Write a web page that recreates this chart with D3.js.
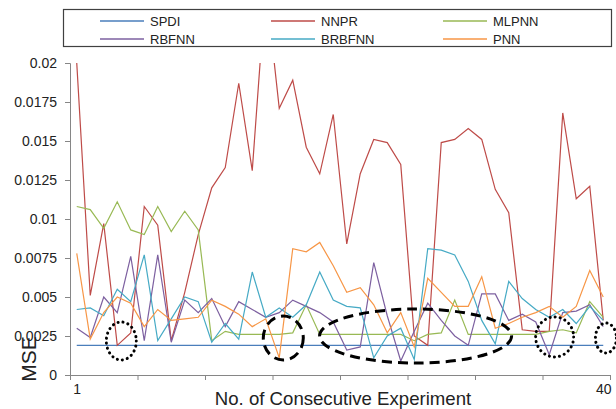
<!DOCTYPE html>
<html>
<head>
<meta charset="utf-8">
<script src="https://cdn.jsdelivr.net/npm/d3@7"></script>
<style>
	body { margin: 0; background: #fff; }
	svg { display: block; font-family: "Liberation Sans", Arial, sans-serif; }
</style>
</head>
<body>
<svg width="616" height="409"></svg>
<script>
(function() {
	"use strict"

	var experiments = d3.range(1, 41),
		seriesNames = ["SPDI", "NNPR", "MLPNN", "RBFNN", "BRBFNN", "PNN"],
		spdi = experiments.map(function() { return 0.0019; }),
		nnpr = [0.0200, 0.0051, 0.0097, 0.0019, 0.0027, 0.0108, 0.0096, 0.0022, 0.0053, 0.0090,
			0.0120, 0.0133, 0.0187, 0.0131, 0.0250, 0.0171, 0.0189, 0.0146, 0.0129, 0.0167,
			0.0084, 0.0129, 0.0151, 0.0149, 0.0135, 0.0025, 0.0019, 0.0149, 0.0151, 0.0158,
			0.0151, 0.0119, 0.0104, 0.0029, 0.0028, 0.0028, 0.0168, 0.0113, 0.0121, 0.0035],
		mlpnn = [0.0108, 0.0106, 0.0094, 0.0111, 0.0093, 0.0090, 0.0108, 0.0092, 0.0105, 0.0093,
			0.0022, 0.0028, 0.0026, 0.0026, 0.0026, 0.0026, 0.0027, 0.0045, 0.0026, 0.0026,
			0.0026, 0.0026, 0.0026, 0.0026, 0.0026, 0.0022, 0.0026, 0.0027, 0.0048, 0.0026,
			0.0026, 0.0026, 0.0026, 0.0026, 0.0026, 0.0028, 0.0029, 0.0027, 0.0047, 0.0037],
		rbfnn = [0.0030, 0.0024, 0.0050, 0.0040, 0.0076, 0.0022, 0.0077, 0.0021, 0.0048, 0.0040,
			0.0049, 0.0031, 0.0047, 0.0042, 0.0037, 0.0040, 0.0048, 0.0044, 0.0040, 0.0034,
			0.0016, 0.0018, 0.0072, 0.0038, 0.0009, 0.0028, 0.0046, 0.0035, 0.0025, 0.0019,
			0.0052, 0.0052, 0.0035, 0.0039, 0.0034, 0.0013, 0.0040, 0.0041, 0.0045, 0.0031],
		brbfnn = [0.0042, 0.0043, 0.0038, 0.0055, 0.0047, 0.0077, 0.0022, 0.0036, 0.0050, 0.0047,
			0.0021, 0.0033, 0.0023, 0.0066, 0.0037, 0.0043, 0.0037, 0.0045, 0.0066, 0.0048,
			0.0044, 0.0043, 0.0011, 0.0025, 0.0030, 0.0010, 0.0081, 0.0080, 0.0077, 0.0060,
			0.0035, 0.0020, 0.0060, 0.0049, 0.0042, 0.0037, 0.0042, 0.0033, 0.0044, 0.0035],
		pnn = [0.0078, 0.0023, 0.0040, 0.0050, 0.0046, 0.0031, 0.0042, 0.0035, 0.0036, 0.0037,
			0.0048, 0.0044, 0.0039, 0.0031, 0.0036, 0.0011, 0.0081, 0.0079, 0.0085, 0.0070,
			0.0053, 0.0056, 0.0045, 0.0027, 0.0040, 0.0018, 0.0062, 0.0053, 0.0044, 0.0044,
			0.0063, 0.0030, 0.0033, 0.0037, 0.0040, 0.0044, 0.0037, 0.0044, 0.0067, 0.0050],
		yTickValues = [0, 0.0025, 0.005, 0.0075, 0.01, 0.0125, 0.015, 0.0175, 0.02],
		yTickLabels = ["0", "0.0025", "0.005", "0.0075", "0.01", "0.0125", "0.015", "0.0175", "0.02"],
		xTickLabels = [1, 40],
		// dotted / dashed rings drawn over the chart: [experiment, mse, rx, ry, style]
		highlights = [[4.3, 0.00218, 15, 19, "dot"], [16.3, 0.00237, 20, 22, "dash"],
			[26.1, 0.00250, 96, 27, "dash"], [36.4, 0.00244, 19, 20, "dot"], [40.2, 0.00237, 10.5, 15, "dot"]];

	var colors = ["#4a7ebb", "#be4b48", "#98b954", "#7d60a0", "#46aac5", "#f79646"],
		allSeries = [spdi, nnpr, mlpnn, rbfnn, brbfnn, pnn],
		svg = d3.select("svg"),
		x = d3.scaleLinear().domain([0.5, 40.5]).range([70, 610]),
		y = d3.scaleLinear().domain([0, 0.02]).range([375, 63]),
		axisColor = "#868686";

	svg.append("clipPath").attr("id", "plot")
		.append("rect").attr("x", 70).attr("y", 63).attr("width", 540).attr("height", 312);

	// legend
	var legend = svg.append("g");
	legend.append("rect")
		.attr("x", 63.5).attr("y", 9.5).attr("width", 548).attr("height", 37)
		.attr("fill", "none").attr("stroke", "#404040").attr("stroke-width", 1.2);
	var item = legend.selectAll("g.item")
		.data(seriesNames)
		.enter()
		.append("g")
			.attr("transform", function(d, i) {
				return "translate(" + [100, 271, 443][i % 3] + "," + (i < 3 ? 21 : 39) + ")";
			});
	item.append("line")
		.attr("x1", 0).attr("x2", 44).attr("y1", 0).attr("y2", 0)
		.style("stroke", function(d, i) { return colors[i]; })
		.style("stroke-width", 1.3);
	item.append("text")
		.attr("x", 50).attr("y", 4.5)
		.style("font-size", "13px").style("fill", "#222")
		.text(function(d) { return d; });

	// axes
	var yAxis = svg.append("g")
		.attr("transform", "translate(70,0)")
		.call(d3.axisLeft(y).tickValues(yTickValues).tickSize(5).tickPadding(8)
			.tickFormat(function(d, i) { return yTickLabels[i]; }));
	var xAxis = svg.append("g")
		.attr("transform", "translate(0,375)")
		.call(d3.axisBottom(x).tickValues(d3.range(0.5, 41, 5)).tickSize(5).tickFormat(""));
	var xLabels = svg.append("g")
		.attr("transform", "translate(0,375)")
		.call(d3.axisBottom(x).tickValues(xTickLabels).tickSize(0).tickPadding(9));
	xLabels.select(".domain").remove();
	[yAxis, xAxis].forEach(function(g) {
		g.select(".domain").attr("stroke", axisColor);
		g.selectAll(".tick line").attr("stroke", axisColor);
	});
	svg.selectAll(".tick text").style("font-size", "14px").style("fill", "#222")
		.style("font-family", "Liberation Sans, Arial, sans-serif");

	svg.append("text")
		.attr("transform", "translate(36,359) rotate(-90)")
		.attr("text-anchor", "middle")
		.style("font-size", "21px").style("fill", "#222")
		.text("MSE");
	svg.append("text")
		.attr("x", 343).attr("y", 405)
		.attr("text-anchor", "middle")
		.style("font-size", "18.6px").style("fill", "#222")
		.text("No. of Consecutive Experiment");

	// series
	var line = d3.line()
		.x(function(d, i) { return x(experiments[i]); })
		.y(function(d) { return y(d); });
	svg.append("g")
		.attr("clip-path", "url(#plot)")
		.selectAll("path")
		.data(allSeries)
		.enter()
		.append("path")
			.attr("d", line)
			.attr("fill", "none")
			.style("stroke", function(d, i) { return colors[i]; })
			.style("stroke-width", 1.2);

	// highlight rings
	svg.append("g")
		.selectAll("ellipse")
		.data(highlights)
		.enter()
		.append("ellipse")
			.attr("cx", function(d) { return x(d[0]); })
			.attr("cy", function(d) { return y(d[1]); })
			.attr("rx", function(d) { return d[2]; })
			.attr("ry", function(d) { return d[3]; })
			.attr("fill", "none")
			.style("stroke", "#000")
			.style("stroke-width", 3)
			.style("stroke-linecap", function(d) { return d[4] === "dot" ? "round" : "butt"; })
			.style("stroke-dasharray", function(d) { return d[4] === "dot" ? "0.1 5" : "10 6"; });
})();
</script>
</body>
</html>
